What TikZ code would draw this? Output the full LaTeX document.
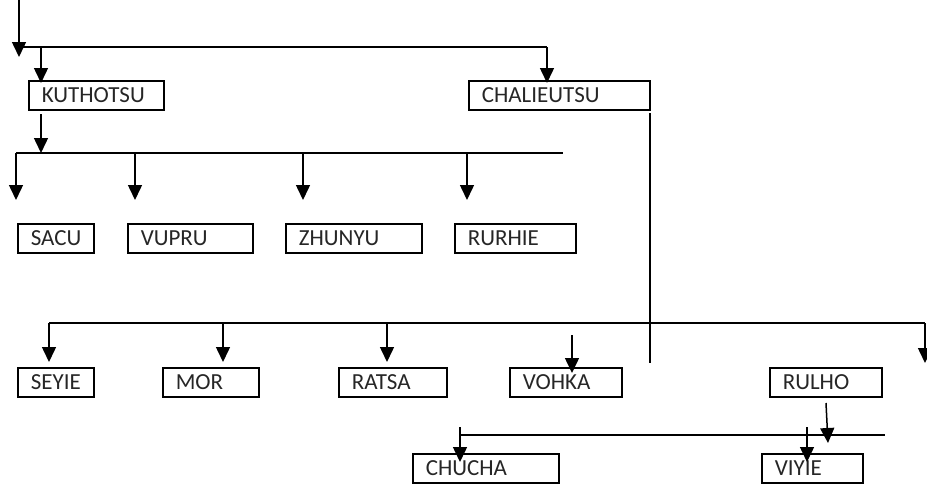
\documentclass[tikz,border=0pt]{standalone}
\usepackage{fontspec}
\setmainfont{Carlito}
\usetikzlibrary{arrows.meta}
\tikzset{
  ln/.style={line width=1.5pt},
  arr/.style={ln,-{Triangle[width=14pt,length=15pt]}},
  box/.style={draw,line width=1.6pt,anchor=north west,minimum height=29pt,
    inner ysep=0pt,inner xsep=13pt,align=left,font=\fontsize{23pt}{24pt}\selectfont,
    text=black!85},
}
\newcommand{\bx}[5]{\node[box,text width={#4-26pt}] (#1) at (#2,#3) {#5};}
\begin{document}
\begin{tikzpicture}[x=1pt,y=-1pt]
\useasboundingbox (0,0) rectangle (927,483);
% boxes
\bx{kut}{28}{80}{135pt}{KUTHOTSU}
\bx{cha}{468}{80}{181pt}{CHALIEUTSU}
\bx{sacu}{17}{223}{76pt}{SACU}
\bx{vupru}{127}{223}{125pt}{VUPRU}
\bx{zhun}{285}{223}{136pt}{ZHUNYU}
\bx{rur}{454}{223}{121pt}{RURHIE}
\bx{sey}{17}{367}{76pt}{SEYIE}
\bx{mor}{162}{367}{96pt}{MOR}
\bx{rat}{338}{367}{108pt}{RATSA}
\bx{voh}{509}{367}{112pt}{VOHKA}
\bx{rul}{769}{367}{112pt}{RULHO}
\bx{chu}{412}{453}{146pt}{CHUCHA}
\bx{viy}{761}{453}{101pt}{VIYIE}
% coordinates
\coordinate (top) at (19,0);
\coordinate (topE) at (19,57);
\coordinate (b1L) at (19,47);
\coordinate (b1R) at (547,47);
\coordinate (b1K) at (41,47);
\coordinate (kutS) at (41,114);
\coordinate (b2K) at (41,153);
\coordinate (b2L) at (16,153);
\coordinate (b2R) at (563,153);
\coordinate (chaS) at (650,113);
\coordinate (chaE) at (650,363);
\coordinate (b3L) at (49,323);
\coordinate (b3R) at (925,323);
\coordinate (b3E) at (925,363);
\coordinate (vohS) at (572,335);
\coordinate (rulS) at (826,403);
\coordinate (rulE) at (828,443);
\coordinate (b4L) at (461,435);
\coordinate (b4R) at (885,435);
% connectors
\draw[arr] (top) -- (topE);
\draw[ln] (b1L) -- (b1R);
\draw[arr] (b1R) -- (b1R |- 0,83);
\draw[arr] (b1K) -- (b1K |- 0,83);
\draw[arr] (kutS) -- (b2K);
\draw[ln] (b2L) -- (b2R);
\foreach \x in {16,135,303,467} \draw[arr] (\x,153) -- (\x,200);
\draw[ln] (chaS) -- (chaE);
\draw[ln] (b3L) -- (b3R);
\foreach \x in {49,223,387} \draw[arr] (\x,323) -- (\x,362);
\draw[arr] (b3R) -- (b3E);
\draw[arr] (vohS) -- (vohS |- 0,373);
\draw[arr] (rulS) -- (rulE);
\draw[ln] (b4L) -- (b4R);
\draw[arr] (460,427) -- (460,462);
\draw[arr] (807,427) -- (807,462);
\end{tikzpicture}
\end{document}
